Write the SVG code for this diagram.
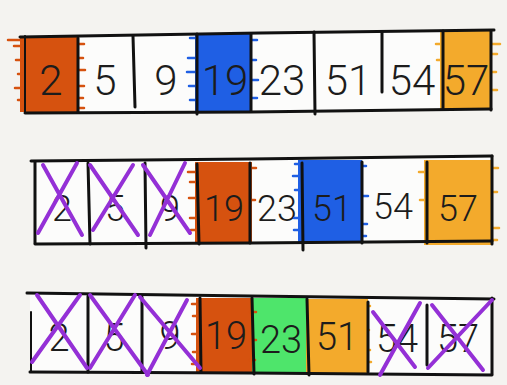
<svg xmlns="http://www.w3.org/2000/svg" width="507" height="385" viewBox="0 0 507 385">
<style>
.bg{fill:#f4f3f0}
.box{fill:#fcfcfb}
.edge{fill:none;stroke:#111;stroke-width:3;stroke-linecap:round}
.thin{fill:none;stroke:#111;stroke-width:2;stroke-linecap:round}
.num{font-family:Roboto,"Liberation Sans",Arial,sans-serif;font-weight:300;fill:#1c1c1c;text-anchor:middle}
.r1{font-size:42px}
.r2{font-size:36px}
.r3{font-size:38px}
.x{fill:none;stroke:#9430d6;stroke-width:4;stroke-linecap:round}
.or{fill:#d6520f}
.bl{fill:#1f5fe4}
.ye{fill:#f3aa2c}
.gr{fill:#4ee56b}
.so{stroke:#d6520f}
.sb{stroke:#1f5fe4}
.sy{stroke:#f3aa2c}
.st{fill:none;stroke-width:2.5;stroke-linecap:round}
</style>
<rect class="bg" width="507" height="385"/>

<!-- Row 1 -->
<g id="row1">
<polygon class="box" points="25,35 491,31 491,110 25,113"/>
<g id="r1c0">
<rect class="or" x="20" y="37" width="59" height="75"/>
<path class="st so" d="M8,40 H22 M14,46 H22 M16,60 H22 M18,74 H22 M15,88 H22 M18,100 H22 M78,44 H84 M78,58 H83 M78,70 H85 M78,86 H84 M78,98 H83 M78,108 H84"/>
<text class="num r1" x="51" y="95">2</text>
</g>
<g id="r1c1"><text class="num r1" x="105" y="95">5</text></g>
<g id="r1c2"><text class="num r1" x="166" y="95">9</text></g>
<g id="r1c3">
<rect class="bl" x="195" y="33" width="57" height="80"/>
<path class="st sb" d="M190,38 H196 M188,58 H196 M187,72 H196 M189,86 H196 M190,100 H196 M251,40 H257 M251,60 H256 M251,80 H258 M251,98 H257"/>
<text class="num r1" x="225" y="95">19</text>
</g>
<g id="r1c4"><text class="num r1" x="282" y="95">23</text></g>
<g id="r1c5"><text class="num r1" x="348" y="95">51</text></g>
<g id="r1c6"><text class="num r1" x="412" y="95">54</text></g>
<g id="r1c7">
<rect class="ye" x="440" y="31" width="52" height="79"/>
<path class="st sy" d="M436,44 H442 M437,60 H442 M491,44 H500 M491,54 H497 M491,72 H496 M491,90 H497"/>
<text class="num r1" x="466" y="95">57</text>
</g>
<path class="edge" d="M20,37 L260,33 L494,30"/>
<path class="edge" d="M25,113 L250,112 L491,109"/>
<path class="thin" d="M25,36 V112"/>
<path class="edge" d="M78,38 V112 M133,36 L135,107 M197,34 V114 M251,34 V111 M314,32 L315,114 M382,32 V92 M443,31 V108 M491,31 V110"/>
</g>

<!-- Row 2 -->
<g id="row2">
<polygon class="box" points="35,161 492,156 492,241 35,244"/>
<g id="r2c0"><text class="num r2" x="62" y="221">2</text></g>
<g id="r2c1"><text class="num r2" x="115" y="221">5</text></g>
<g id="r2c2"><text class="num r2" x="170" y="221">9</text></g>
<g id="r2c3">
<rect class="or" x="195" y="162" width="57" height="81"/>
<path class="st so" d="M188,172 H196 M190,182 H196 M189,198 H196 M190,218 H196 M191,230 H196 M250,168 H256 M250,200 H255"/>
<text class="num r2" x="224" y="221">19</text>
</g>
<g id="r2c4"><text class="num r2" x="277" y="221">23</text></g>
<g id="r2c5">
<rect class="bl" x="298" y="160" width="64" height="83"/>
<path class="st sb" d="M295,164 H300 M293,176 H300 M295,190 H300 M294,218 H300 M294,230 H300 M361,166 H366 M361,196 H368 M361,224 H367 M361,236 H366"/>
<text class="num r2" x="332" y="221">51</text>
</g>
<g id="r2c6"><text class="num r2" x="393" y="219">54</text></g>
<g id="r2c7">
<rect class="ye" x="424" y="160" width="69" height="85"/>
<path class="st sy" d="M419,172 H426 M420,200 H426 M492,168 H498 M492,192 H497 M492,228 H499 M492,240 H497"/>
<text class="num r2" x="458" y="221">57</text>
</g>
<path class="edge" d="M31,161 L250,159 L492,156"/>
<path class="edge" d="M35,244 L250,243 L492,241"/>
<path class="edge" d="M35,162 V243 M88,163 L90,244 M145,163 L146,248 M197,164 L199,244 M250,163 V243 M302,163 L303,250 M362,162 V243 M427,162 V243 M492,156 V244"/>
<g id="r2x">
<path class="x" d="M43,165 L82,235 M77,163 L38,233"/>
<path class="x" d="M90,165 L138,235 M133,165 L93,230"/>
<path class="x" d="M143,165 L190,233 M185,163 L150,235"/>
</g>
</g>

<!-- Row 3 -->
<g id="row3">
<polygon class="box" points="30,294 492,298 492,373 30,372"/>
<g id="r3c0"><text class="num r3" x="59" y="351">2</text></g>
<g id="r3c1"><text class="num r3" x="114" y="351">5</text></g>
<g id="r3c2"><text class="num r3" x="170" y="349">9</text></g>
<g id="r3c3">
<rect class="or" x="196" y="298" width="58" height="74"/>
<path class="st so" d="M192,304 H198 M193,316 H198 M192,334 H198 M193,352 H198 M192,364 H198"/>
<text class="num r3" x="226" y="349">19</text>
</g>
<g id="r3c4">
<rect class="gr" x="252" y="298" width="55" height="75"/>
<path class="st so" d="M250,312 H256 M250,340 H256 M250,360 H255"/>
<text class="num r3" x="281" y="353">23</text>
</g>
<g id="r3c5">
<rect class="ye" x="306" y="299" width="62" height="74"/>
<path class="st sy" d="M366,306 H370 M366,330 H369 M366,350 H370 M366,362 H371"/>
<text class="num r3" x="337" y="350">51</text>
</g>
<g id="r3c6"><text class="num r3" x="397" y="352">54</text></g>
<g id="r3c7"><text class="num r3" x="458" y="352">57</text></g>
<path class="edge" d="M27,293 L250,296 L494,299"/>
<path class="edge" d="M30,372 L250,373 L492,375"/>
<path class="thin" d="M31,312 V372"/>
<path class="edge" d="M88,296 V372 M142,297 V371 M200,298 L201,372 M252,298 L254,374 M307,299 L309,375 M368,302 V372 M427,305 V365 M492,298 V374"/>
<g id="r3x">
<path class="x" d="M37,295 L87,368 M80,295 L32,362"/>
<path class="x" d="M90,295 L148,375 M135,295 L90,368"/>
<path class="x" d="M140,297 L200,368 M187,300 L147,375"/>
<path class="x" d="M373,312 L415,367 M420,303 L380,375"/>
<path class="x" d="M432,305 L483,370 M492,300 L428,368"/>
</g>
</g>
</svg>
